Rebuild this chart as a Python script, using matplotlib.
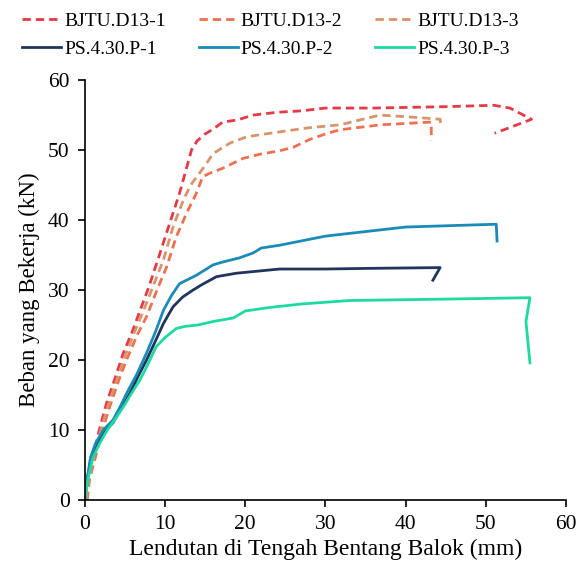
import matplotlib.pyplot as plt

plt.rcParams['font.family'] = ['Liberation Serif', 'DejaVu Serif']

# BJTU.D13 series (dashed)
d1_x = [0, 0.4, 1, 1.8, 2.7, 3.8, 4.8, 5.9, 6.9, 8, 9.1, 10.6, 11.8, 12.7, 13.3, 14, 15, 16, 17.2, 19, 21, 24, 27, 30, 36, 45, 51, 53, 55.7, 51.1]
d1_y = [0, 3, 6, 10, 13.8, 17.5, 21, 24, 27.1, 30.5, 34.3, 39.6, 43.8, 47.5, 50, 51.3, 52.3, 53, 54, 54.3, 55, 55.4, 55.6, 56, 56, 56.2, 56.4, 56, 54.4, 52.4]

d2_x = [0.3, 0.6, 1.3, 2.2, 3.1, 4.2, 5.2, 6.5, 7.7, 9, 10.2, 11.4, 12.7, 13.9, 14.7, 15.6, 17.2, 19.7, 21.8, 24.3, 26, 28, 30, 31.8, 36.8, 43.2, 43.2]
d2_y = [0, 3, 6, 10, 13.3, 17, 20, 23.5, 26.2, 30, 33.3, 37.6, 41, 43.8, 46.2, 46.7, 47.4, 48.8, 49.4, 49.9, 50.4, 51.5, 52.3, 52.9, 53.6, 54.0, 51.4]

d3_x = [0.2, 0.5, 1.1, 2, 2.9, 4, 5, 6.2, 7.3, 8.5, 9.8, 11, 12.3, 13.2, 14.1, 15, 16, 18.1, 20.2, 24.3, 28, 31.8, 36.8, 40.9, 44.3, 44.4]
d3_y = [0, 3, 6, 10, 13.5, 17.2, 20.5, 24, 27, 30.5, 34.3, 39, 42.9, 45, 46.4, 47.8, 49.5, 51, 51.9, 52.6, 53.2, 53.6, 55, 54.7, 54.4, 53.6]

# PS.4.30.P series (solid)
p1_x = [0, 0.3, 0.8, 1.5, 2.4, 3.5, 4.5, 5.6, 6.7, 7.7, 8.8, 9.8, 11, 12.2, 13.5, 14.5, 16.4, 18.9, 24.3, 30, 36, 44.3, 43.4]
p1_y = [0, 3, 6, 8, 9.8, 11, 13, 15.2, 17.8, 20, 22.7, 25.2, 27.6, 29, 30, 30.7, 31.9, 32.4, 33, 33, 33.1, 33.2, 31.4]

p2_x = [0, 0.3, 0.7, 1.3, 2.3, 3.5, 4.4, 5.2, 6.5, 7.7, 8.8, 9.8, 10.8, 11.8, 13.9, 16, 17.2, 19.3, 21, 22, 24.3, 30, 40, 51.3, 51.4]
p2_y = [0, 3, 6, 8, 10, 11.4, 13.3, 15.2, 18, 21, 24, 27.1, 29.2, 30.9, 32.1, 33.6, 34, 34.6, 35.3, 36, 36.4, 37.7, 39, 39.4, 37.0]

p3_x = [0, 0.4, 1, 1.8, 2.8, 3.7, 4.8, 5.8, 6.8, 7.7, 8.9, 10, 11.4, 12.5, 14.1, 16, 18.5, 20, 23, 27, 33, 45, 55.5, 55, 55.5]
p3_y = [0, 3, 6, 8, 10, 11.4, 13.3, 15.2, 17, 19, 21.9, 23.2, 24.5, 24.8, 25, 25.5, 26, 27, 27.5, 28, 28.5, 28.7, 28.9, 25.5, 19.6]

fig = plt.figure(figsize=(5.77, 5.72), dpi=100)
ax = fig.add_axes([0.147, 0.126, 0.834, 0.734])

dash = (0, (3, 1.8))
l1, = ax.plot(d1_x, d1_y, color='#E63946', lw=2, ls=dash, label='BJTU.D13-1')
l2, = ax.plot(d2_x, d2_y, color='#EE7050', lw=2, ls=dash, label='BJTU.D13-2')
l3, = ax.plot(d3_x, d3_y, color='#D8946A', lw=2, ls=dash, label='BJTU.D13-3')
l4, = ax.plot(p1_x, p1_y, color='#1F355E', lw=2, label='PS.4.30.P-1')
l5, = ax.plot(p2_x, p2_y, color='#1A8BB8', lw=2, label='PS.4.30.P-2')
l6, = ax.plot(p3_x, p3_y, color='#1ED9A0', lw=2, label='PS.4.30.P-3')

ax.set_xlim(0, 60)
ax.set_ylim(0, 60)
ax.set_xticks(range(0, 61, 10))
ax.set_yticks(range(0, 61, 10))
ax.tick_params(direction='out', labelsize=15.5, length=5, width=1.2, pad=6)
ax.spines['top'].set_visible(False)
ax.spines['right'].set_visible(False)
ax.spines['left'].set_linewidth(1.2)
ax.spines['bottom'].set_linewidth(1.2)
ax.set_xlabel('Lendutan di Tengah Bentang Balok (mm)', fontsize=17, labelpad=3)
ax.set_ylabel('Beban yang Bekerja (kN)', fontsize=16.5, labelpad=6)

# row-major order for the 3-column legend
handles = [l1, l4, l2, l5, l3, l6]
ax.legend(handles=handles, labels=[h.get_label() for h in handles],
          ncol=3, loc='lower center', bbox_to_anchor=(0.386, 1.02), frameon=False,
          fontsize=14, handlelength=2.0, handletextpad=0.15, columnspacing=1.7,
          borderaxespad=0.3, labelspacing=0.55)

fig.savefig('out.png', dpi=100)
